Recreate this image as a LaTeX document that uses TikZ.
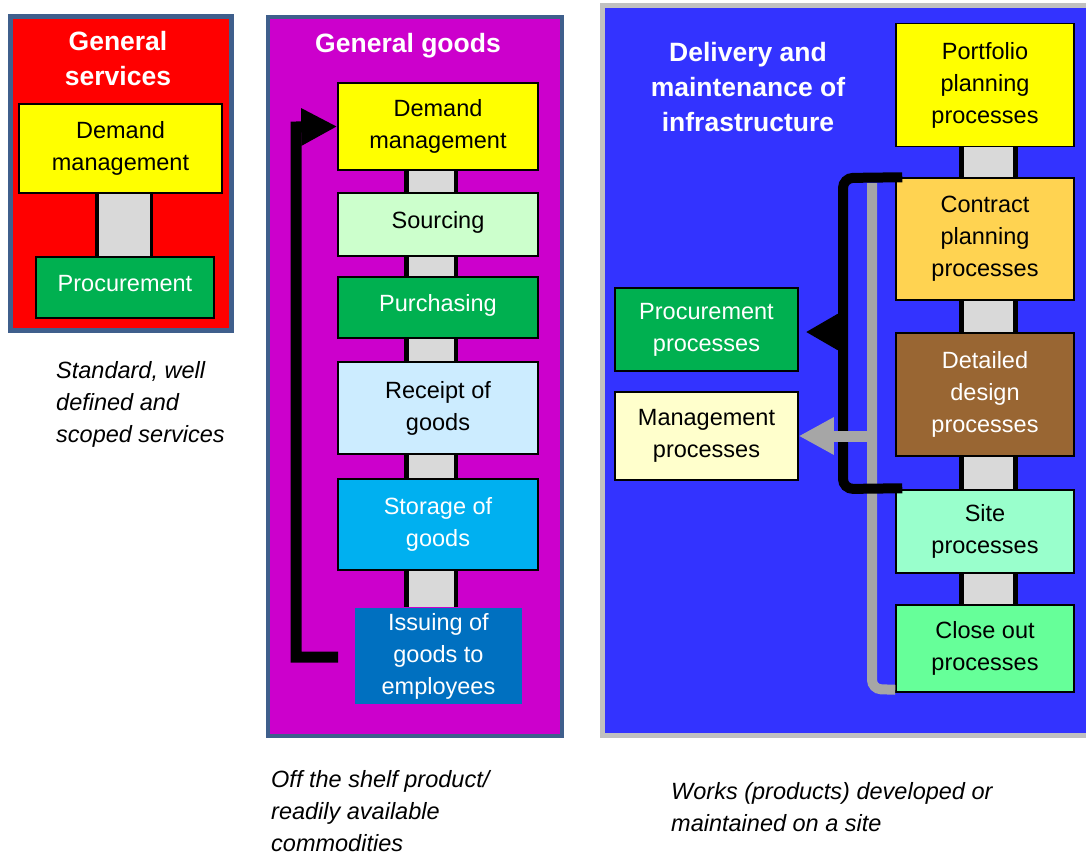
\documentclass[tikz,border=0pt]{standalone}
\usepackage{fontspec}
\setmainfont{Liberation Sans}
\usetikzlibrary{arrows.meta,calc}
\pgfdeclarelayer{bg}\pgfdeclarelayer{mid}\pgfsetlayers{bg,mid,main}
\definecolor{frameblue}{RGB}{63,95,140}
\definecolor{pred}{RGB}{255,0,0}
\definecolor{pmag}{RGB}{204,0,204}
\definecolor{pblue}{RGB}{51,51,255}
\definecolor{pgrayframe}{RGB}{192,192,192}
\definecolor{cyellow}{RGB}{255,255,0}
\definecolor{clgreen}{RGB}{204,255,204}
\definecolor{cgreen}{RGB}{0,176,80}
\definecolor{clblue}{RGB}{204,236,255}
\definecolor{ccyan}{RGB}{0,176,240}
\definecolor{cdblue}{RGB}{0,112,192}
\definecolor{corange}{RGB}{255,211,81}
\definecolor{cbrown}{RGB}{153,102,51}
\definecolor{csite}{RGB}{153,255,204}
\definecolor{cclose}{RGB}{102,255,153}
\definecolor{cmgmt}{RGB}{255,255,204}
\definecolor{barfill}{RGB}{217,217,217}
\definecolor{linegray}{RGB}{166,166,166}
\tikzset{
  pbox/.style={draw=black, line width=1.5pt, inner sep=0pt, align=center,
    font=\fontsize{23.5}{32}\selectfont},
  oneline/.style={text height=17pt, text depth=10pt},
  ptitle/.style={text=white, inner sep=0pt, align=center,
    font=\bfseries\fontsize{26.5}{35}\selectfont},
  caption/.style={inner sep=0pt, align=left, anchor=west,
    font=\itshape\fontsize{23.5}{32}\selectfont},
}
\newcommand\linkbar[4]{%
  \draw[line width=#3, black] (#1) -- (#2);
  \draw[line width=#4, barfill] (#1) -- (#2);}
\begin{document}
\begin{tikzpicture}[x=1pt,y=-1pt]
\useasboundingbox (0,0) rectangle (1086,854);

% panels
\begin{pgfonlayer}{bg}
\fill[white] (0,0) rectangle (1086,854);
\draw[line width=5pt, draw=frameblue, fill=pred] (10.5,16.5) rectangle (231.5,330.5);
\draw[line width=4pt, draw=frameblue, fill=pmag] (268,17) rectangle (562,736);
\draw[line width=5pt, draw=pgrayframe, fill=pblue] (602.5,5.5) rectangle (1092,735.5);
\end{pgfonlayer}

% ---------- panel 1 ----------
\node[ptitle] (t1) at (118,59) {General\\services};
\node[pbox, fill=cyellow, minimum width=203pt, minimum height=89pt] (dm1) at (120.5,148.5) {Demand\\management};
\node[pbox, oneline, fill=cgreen, text=white, minimum width=178pt, minimum height=61pt] (pr1) at (125,287.5) {Procurement};
\coordinate (cx1) at (124,0);
\begin{pgfonlayer}{mid}
\linkbar{dm1.south -| cx1}{pr1.north -| cx1}{58pt}{51pt}
\end{pgfonlayer}
\node[caption] (cap1) at (56,404) {Standard, well\\defined and\\scoped services};

% ---------- panel 2 ----------
\node[ptitle] (t2) at (408,46) {General goods};
\node[pbox, fill=cyellow, minimum width=200pt, minimum height=87pt] (dm2) at (438,126.5) {Demand\\management};
\node[pbox, oneline, fill=clgreen, minimum width=200pt, minimum height=63pt] (src) at (438,224.5) {Sourcing};
\node[pbox, oneline, fill=cgreen, text=white, minimum width=200pt, minimum height=61pt] (pur) at (438,307.5) {Purchasing};
\node[pbox, fill=clblue, minimum width=200pt, minimum height=92pt] (rec) at (438,408) {Receipt of\\goods};
\node[pbox, fill=ccyan, text=white, minimum width=200pt, minimum height=91pt] (sto) at (438,524.5) {Storage of\\goods};
\node[pbox, draw=none, fill=cdblue, text=white, minimum width=167pt, minimum height=96pt] (iss) at (438.5,656) {Issuing of\\goods to\\employees};
\coordinate (cx2) at (431,0);
\begin{pgfonlayer}{mid}
\linkbar{dm2.south -| cx2}{src.north -| cx2}{54pt}{45pt}
\linkbar{src.south -| cx2}{pur.north -| cx2}{54pt}{45pt}
\linkbar{pur.south -| cx2}{rec.north -| cx2}{54pt}{45pt}
\linkbar{rec.south -| cx2}{sto.north -| cx2}{54pt}{45pt}
\linkbar{sto.south -| cx2}{iss.north -| cx2}{54pt}{45pt}
\end{pgfonlayer}
\coordinate (g1) at (338,657);
\coordinate (g2) at (296,657);
\coordinate (g3) at (296,127);
\draw[line width=11pt, black, -{Triangle[length=36pt,width=35pt]}] (g1) -- (g2) -- (g3) -- (dm2.west);
\node[caption] (cap2) at (271,811) {Off the shelf product/\\readily available\\commodities};

% ---------- panel 3 ----------
\node[ptitle] (t3) at (748,87) {Delivery and\\maintenance of\\infrastructure};
\node[pbox, fill=cyellow, minimum width=178pt, minimum height=123pt] (port) at (985,85) {Portfolio\\planning\\processes};
\node[pbox, fill=corange, minimum width=178pt, minimum height=122pt] (cont) at (985,239) {Contract\\planning\\processes};
\node[pbox, fill=cbrown, text=white, minimum width=178pt, minimum height=123pt] (det) at (985,394.5) {Detailed\\design\\processes};
\node[pbox, fill=csite, minimum width=178pt, minimum height=83pt] (site) at (985,531.5) {Site\\processes};
\node[pbox, fill=cclose, minimum width=178pt, minimum height=87pt] (close) at (985,648.5) {Close out\\processes};
\node[pbox, fill=cgreen, text=white, minimum width=183pt, minimum height=83pt] (procp) at (706.5,329.5) {Procurement\\processes};
\node[pbox, fill=cmgmt, minimum width=183pt, minimum height=88pt] (mgmt) at (706.5,436) {Management\\processes};
\coordinate (cx3) at (988.5,0);
\begin{pgfonlayer}{mid}
\linkbar{port.south -| cx3}{cont.north -| cx3}{59pt}{49pt}
\linkbar{cont.south -| cx3}{det.north -| cx3}{59pt}{49pt}
\linkbar{det.south -| cx3}{site.north -| cx3}{59pt}{49pt}
\linkbar{site.south -| cx3}{close.north -| cx3}{59pt}{49pt}
\end{pgfonlayer}
% gray feedback line
\coordinate (gl1) at (872,689);
\coordinate (gl2) at (872,183);
\draw[line width=10pt, linegray, rounded corners=9pt] ($(close.south west)+(0,-3)$) -- (gl1) -- (gl2);
% black bracket
\coordinate (bk1) at (843,178);
\coordinate (bk2) at (843,489);
\draw[line width=10pt, black, rounded corners=10pt] ($(cont.north west)+(7,0)$) -- (bk1) -- (bk2) -- ($(site.north west)+(7,-1)$);
\coordinate (ba) at (843,332);
\draw[line width=10pt, black, -{Triangle[length=32pt,width=34pt]}] (ba) -- ($(procp.east)+(7,2.5)$);
% gray arrow to management
\coordinate (ga) at (872,436);
\draw[line width=11pt, linegray, -{Triangle[length=35pt,width=35pt]}] (ga) -- (mgmt.east);
\node[caption] (cap3) at (671,807) {Works (products) developed or\\maintained on a site};
\end{tikzpicture}
\end{document}
